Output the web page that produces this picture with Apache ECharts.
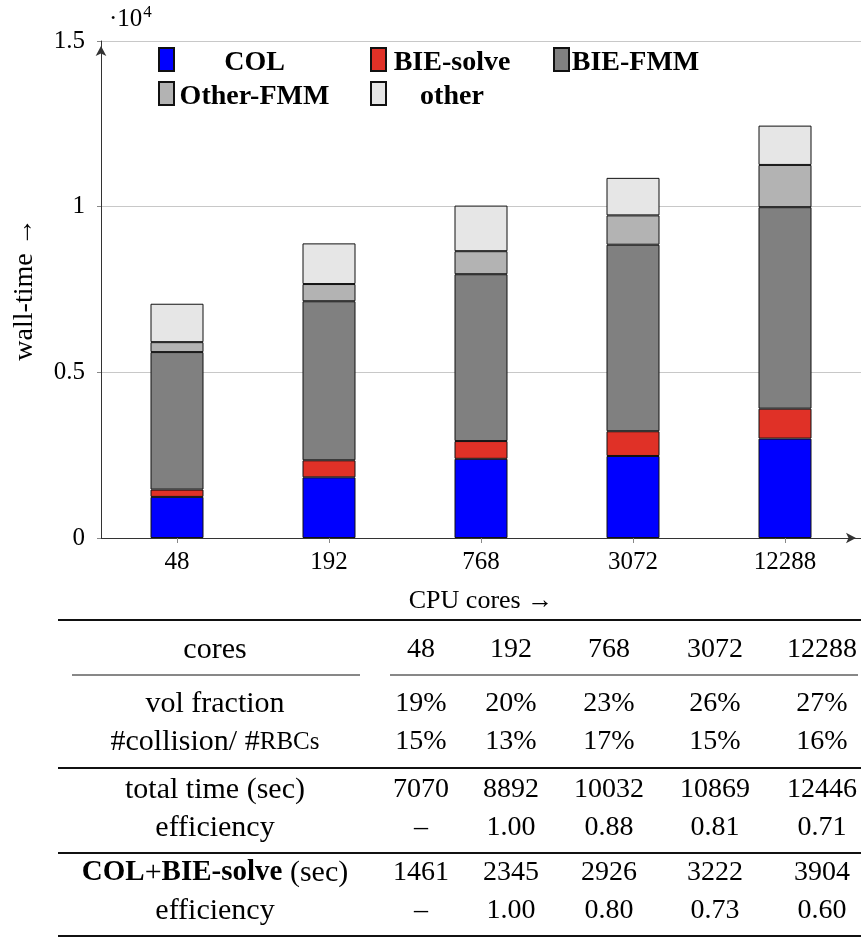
<!DOCTYPE html>
<html><head><meta charset="utf-8">
<script src="https://cdn.jsdelivr.net/npm/echarts@6/dist/echarts.min.js"></script>
<style>html,body{margin:0;padding:0;background:#fff}#c{width:861px;height:938px}</style>
</head><body><div id="c"></div>
<script>
// ---- data ----
const categories = ['48', '192', '768', '3072', '12288'];
const colTime   = [1240, 1830, 2390, 2475, 3000];
const bieSolve  = [221, 515, 536, 747, 904];
const bieFmm    = [4150, 4800, 5035, 5630, 6080];
const otherFmm  = [300, 520, 695, 885, 1275];
const otherTime = [1159, 1227, 1376, 1132, 1187];
const yTickLabels = {0: '0', 5000: '0.5', 10000: '1', 15000: '1.5'};

const tableHeader   = ['48', '192', '768', '3072', '12288'];
const volFraction   = ['19%', '20%', '23%', '26%', '27%'];
const collisionFrac = ['15%', '13%', '17%', '15%', '16%'];
const totalTime     = ['7070', '8892', '10032', '10869', '12446'];
const totalEff      = ['–', '1.00', '0.88', '0.81', '0.71'];
const colBieTime    = ['1461', '2345', '2926', '3222', '3904'];
const colBieEff     = ['–', '1.00', '0.80', '0.73', '0.60'];

const FONT = 'Liberation Serif';
const chart = echarts.init(document.getElementById('c'), null, {renderer: 'canvas'});

function mkSeries(name, data, color) {
  return {
    name: name, type: 'bar', stack: 'total', data: data, barWidth: 53,
    itemStyle: {color: color, borderColor: '#111', borderWidth: 1},
    emphasis: {disabled: true}
  };
}

// one legend per entry, laid out like the reference's 3-column legend
const legendSlots = [
  {name: 'COL',       left: 158, top: 47, w: 151},
  {name: 'BIE-solve', left: 370, top: 47, w: 122},
  {name: 'BIE-FMM',   left: 553, top: 47, w: 123},
  {name: 'Other-FMM', left: 158, top: 81, w: 151},
  {name: 'other',     left: 370, top: 81, w: 122}
];
const legends = legendSlots.map(function (s) {
  return {
    left: s.left, top: s.top, itemWidth: 15, itemHeight: 23, icon: 'rect', padding: 0,
    selectedMode: false, data: [s.name],
    formatter: '{t|{name}}',
    textStyle: {fontFamily: FONT, rich: {t: {width: s.w, align: 'center', fontFamily: FONT,
      fontWeight: 'bold', fontSize: 28, color: '#000', padding: [7, 0, 0, 0]}}}
  };
});

// ---- table graphics ----
const colX = [421, 511, 609, 715, 822];
const labelX = 215;
const g = [];
function txt(x, y, text, extra) {
  g.push({type: 'text', x: x, y: y, silent: true,
    style: Object.assign({text: text, fontFamily: FONT, fontSize: 28, fill: '#000',
      align: 'center', verticalAlign: 'middle'}, extra || {})});
}
function hline(x1, x2, y, w) {
  g.push({type: 'line', silent: true, shape: {x1: x1, y1: y, x2: x2, y2: y},
    style: {stroke: '#111', lineWidth: w}});
}
function row(y, label, vals, extra) {
  txt(labelX, y, label, Object.assign({fontSize: 30}, extra || {}));
  vals.forEach(function (v, i) { txt(colX[i], y, v); });
}
hline(58, 861, 620, 2);
row(650, 'cores', tableHeader);
hline(72, 360, 675, 1);
hline(390, 858, 675, 1);
row(704, 'vol fraction', volFraction);
row(742, '#collision/ #{sc|RBCs}', collisionFrac, {rich: {sc: {fontFamily: FONT, fontSize: 25, fill: '#000'}}});
hline(58, 861, 768, 2);
row(790, 'total time (sec)', totalTime);
row(828, 'efficiency', totalEff);
hline(58, 861, 853, 2);
row(873, '{b|COL}+{b|BIE-solve} (sec)', colBieTime, {rich: {b: {fontFamily: FONT, fontSize: 29, fontWeight: 'bold', fill: '#000'}}});
row(911, 'efficiency', colBieEff);
hline(58, 861, 936, 2);

// exponent label
g.push({type: 'text', x: 109, y: 4, silent: true,
  style: {text: '{a|·10}{b|4}', rich: {
    a: {fontFamily: FONT, fontSize: 25, lineHeight: 28, fill: '#000', verticalAlign: 'bottom'},
    b: {fontFamily: FONT, fontSize: 17, lineHeight: 28, fill: '#000', verticalAlign: 'top', padding: [0, 0, 0, 1]}
  }}});

const option = {
  backgroundColor: '#fff',
  animation: false,
  grid: {left: 101, right: 0, top: 41, bottom: 400, containLabel: false},
  legend: legends,
  xAxis: {
    type: 'category', data: categories,
    name: 'CPU cores →', nameLocation: 'middle', nameGap: 50,
    nameTextStyle: {fontFamily: FONT, fontSize: 26, color: '#000'},
    axisLine: {show: true, symbol: ['none', 'arrow'], symbolSize: [8, 10], symbolOffset: [0, -5],
      lineStyle: {color: '#333', width: 1}},
    axisTick: {show: true, alignWithLabel: true, length: 5, lineStyle: {color: '#888'}},
    axisLabel: {fontFamily: FONT, fontSize: 25, color: '#000', margin: 12},
    splitLine: {show: false}
  },
  yAxis: {
    type: 'value', min: 0, max: 15000, interval: 5000,
    name: 'wall-time →', nameLocation: 'middle', nameRotate: 90, nameGap: 62,
    nameTextStyle: {fontFamily: FONT, fontSize: 28, color: '#000'},
    axisLine: {show: true, symbol: ['none', 'arrow'], symbolSize: [8, 10], symbolOffset: [0, -5],
      lineStyle: {color: '#333', width: 1}},
    axisTick: {show: true, length: 4, lineStyle: {color: '#888'}},
    axisLabel: {fontFamily: FONT, fontSize: 25, color: '#000', margin: 16,
      formatter: function (v) { return yTickLabels[v] !== undefined ? yTickLabels[v] : ''; }},
    splitLine: {show: true, lineStyle: {color: '#c8c8c8', width: 1}}
  },
  series: [
    mkSeries('COL', colTime, '#0000ff'),
    mkSeries('BIE-solve', bieSolve, '#e03127'),
    mkSeries('BIE-FMM', bieFmm, '#808080'),
    mkSeries('Other-FMM', otherFmm, '#b3b3b3'),
    mkSeries('other', otherTime, '#e6e6e6')
  ],
  graphic: g
};
chart.setOption(option);
</script></body></html>
